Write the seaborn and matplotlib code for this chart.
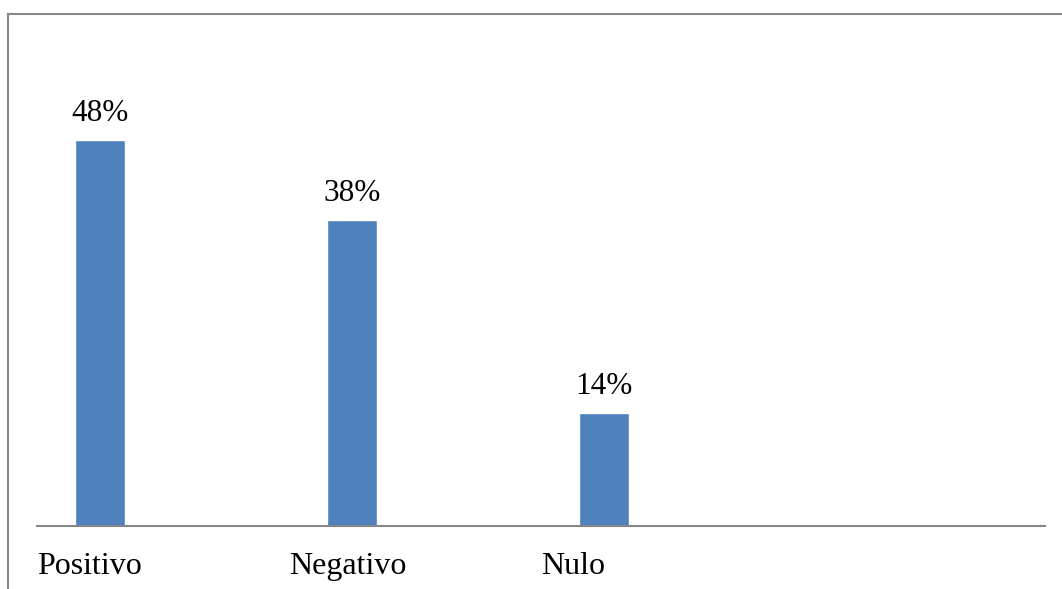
import matplotlib
matplotlib.use("Agg")
import matplotlib.pyplot as plt
import seaborn as sns
import pandas as pd
from matplotlib.patches import Rectangle

# data
categories = ["Positivo", "Negativo", "Nulo"]
percentages = [48, 38, 14]
value_labels = ["48%", "38%", "14%"]

df = pd.DataFrame({"categoria": categories, "pct": percentages})

sns.set_theme(style="white")
plt.rcParams["font.family"] = ["Liberation Serif", "DejaVu Serif"]

W, H = 1062, 589
fig = plt.figure(figsize=(W / 100, H / 100), dpi=100)
fig.patch.set_facecolor("white")

# axes placed in pixel terms: x from 37 to 1045, baseline at y=526
ax = fig.add_axes([37 / W, (H - 526) / H, 1008 / W, 482.4 / H])

sns.barplot(data=df, x="categoria", y="pct", order=categories,
            color="#4F81BD", saturation=1, width=0.198, ax=ax)

ax.set_xlim(-0.25, 3.75)
ax.set_ylim(0, 60)

for i, (v, lab) in enumerate(zip(percentages, value_labels)):
    ax.annotate(lab, (i, v), xytext=(0, 9), textcoords="offset points",
                ha="center", va="bottom", fontsize=22.5, color="black",
                annotation_clip=False)

for s in ["top", "right", "left"]:
    ax.spines[s].set_visible(False)
ax.spines["bottom"].set_color("#868686")
ax.spines["bottom"].set_linewidth(1.5)

ax.set_yticks([])
ax.set_xticks([i - 0.25 for i in range(len(categories))])
ax.set_xticklabels(categories, ha="left", fontsize=23, color="black")
ax.tick_params(axis="x", length=0, pad=19)
ax.set_xlabel("")
ax.set_ylabel("")

# outer chart frame (only top and left edges fall inside the image)
frame = Rectangle((7.5 / W, -0.1), 1.2, (H - 14) / H + 0.1,
                  transform=fig.transFigure, fill=False,
                  edgecolor="#878787", linewidth=1.5, clip_on=False)
fig.add_artist(frame)

fig.savefig("out.png", dpi=100, facecolor="white")
